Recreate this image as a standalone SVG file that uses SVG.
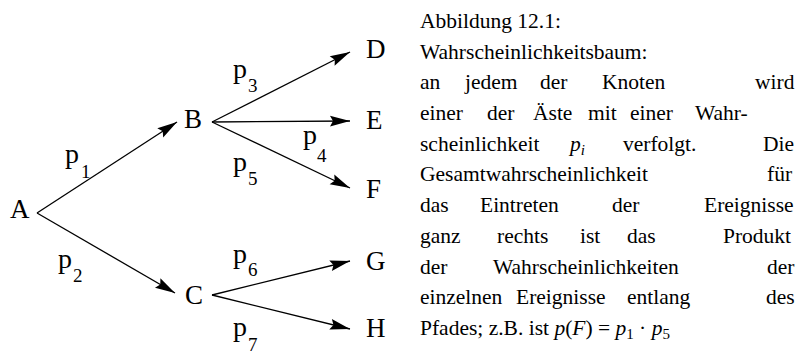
<svg xmlns="http://www.w3.org/2000/svg" width="798" height="356" viewBox="0 0 798 356">
<style>
.node{font-family:"Liberation Serif","Times New Roman",serif;font-size:27px;fill:#000}
.lab{font-family:"Liberation Serif","Times New Roman",serif;font-size:28px;fill:#000}
.sub{font-family:"Liberation Serif","Times New Roman",serif;font-size:19px;fill:#000}
.cap{font-family:"Liberation Serif","Times New Roman",serif;font-size:21.5px;fill:#000}
.it{font-style:italic}
.sm{font-size:15px}
.edge{stroke:#000;stroke-width:1.3;fill:none;marker-end:url(#ah)}
</style>
<defs>
<marker id="ah" markerUnits="userSpaceOnUse" markerWidth="22" markerHeight="12" refX="20" refY="6" orient="auto" overflow="visible">
<path d="M0,0.6 L20,6 L0,11.4 L3,6 Z" fill="#000"/>
</marker>
</defs>
<rect width="798" height="356" fill="#fff"/>
<g id="connectors">
<line class="edge" x1="37" y1="213" x2="177" y2="122"/>
<line class="edge" x1="37" y1="213" x2="175" y2="293"/>
<line class="edge" x1="212" y1="122" x2="350" y2="52"/>
<line class="edge" x1="212" y1="122" x2="350" y2="121"/>
<line class="edge" x1="212" y1="122" x2="350" y2="188"/>
<line class="edge" x1="212" y1="295" x2="350" y2="261"/>
<line class="edge" x1="212" y1="295" x2="350" y2="329"/>
</g>
<g id="edge-labels">
<text class="lab" x="65" y="163">p</text><text class="sub" x="81" y="178">1</text>
<text class="lab" x="58" y="268">p</text><text class="sub" x="73" y="282">2</text>
<text class="lab" x="233" y="78">p</text><text class="sub" x="248" y="92">3</text>
<text class="lab" x="303" y="144">p</text><text class="sub" x="317" y="162">4</text>
<text class="lab" x="233" y="171">p</text><text class="sub" x="248" y="185">5</text>
<text class="lab" x="233" y="263">p</text><text class="sub" x="248" y="276">6</text>
<text class="lab" x="233" y="336">p</text><text class="sub" x="248" y="351">7</text>
</g>
<g id="node-A"><text class="node" x="10" y="218">A</text></g>
<g id="node-B"><text class="node" x="184" y="128">B</text></g>
<g id="node-C"><text class="node" x="185" y="304">C</text></g>
<g id="node-D"><text class="node" x="366" y="58">D</text></g>
<g id="node-E"><text class="node" x="366" y="129">E</text></g>
<g id="node-F"><text class="node" x="366" y="198">F</text></g>
<g id="node-G"><text class="node" x="366" y="270">G</text></g>
<g id="node-H"><text class="node" x="366" y="337">H</text></g>
<g id="caption">
<text class="cap" x="420" y="28">Abbildung 12.1:</text>
<text class="cap" x="420" y="59">Wahrscheinlichkeitsbaum:</text>
<text class="cap" y="89"><tspan x="420">an</tspan><tspan x="465">jedem</tspan><tspan x="540">der</tspan><tspan x="602">Knoten</tspan><tspan x="755">wird</tspan></text>
<text class="cap" y="120"><tspan x="420">einer</tspan><tspan x="487">der</tspan><tspan x="533">Äste</tspan><tspan x="588">mit</tspan><tspan x="630">einer</tspan><tspan x="695">Wahr-</tspan></text>
<text class="cap" y="151"><tspan x="420">scheinlichkeit</tspan><tspan x="570" class="it">p</tspan><tspan class="it sm" dy="4">i</tspan><tspan x="623" dy="-4">verfolgt.</tspan><tspan x="763">Die</tspan></text>
<text class="cap" y="181"><tspan x="420">Gesamtwahrscheinlichkeit</tspan><tspan x="767">für</tspan></text>
<text class="cap" y="212"><tspan x="420">das</tspan><tspan x="480">Eintreten</tspan><tspan x="612">der</tspan><tspan x="704">Ereignisse</tspan></text>
<text class="cap" y="243"><tspan x="420">ganz</tspan><tspan x="497">rechts</tspan><tspan x="580">ist</tspan><tspan x="627">das</tspan><tspan x="723">Produkt</tspan></text>
<text class="cap" y="274"><tspan x="420">der</tspan><tspan x="493">Wahrscheinlichkeiten</tspan><tspan x="767">der</tspan></text>
<text class="cap" y="304"><tspan x="420">einzelnen</tspan><tspan x="516">Ereignisse</tspan><tspan x="627">entlang</tspan><tspan x="766">des</tspan></text>
<text class="cap" y="335"><tspan x="420">Pfades; z.B. ist </tspan><tspan class="it">p</tspan><tspan>(</tspan><tspan class="it">F</tspan><tspan>) = </tspan><tspan class="it">p</tspan><tspan class="sm" dy="4">1</tspan><tspan dy="-4"> · </tspan><tspan class="it">p</tspan><tspan class="sm" dy="4">5</tspan></text>
</g>
</svg>
